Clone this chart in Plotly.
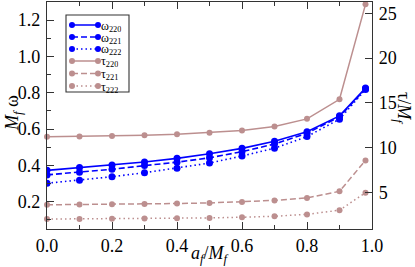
import plotly.graph_objects as go

# ---------------- data ----------------
a_f = [0.0, 0.1, 0.2, 0.3, 0.4, 0.5, 0.6, 0.7, 0.8, 0.9, 0.98]
w220 = [0.373, 0.388, 0.403, 0.419, 0.439, 0.464, 0.494, 0.533, 0.586, 0.673, 0.826]
w221 = [0.348, 0.362, 0.379, 0.399, 0.418, 0.442, 0.476, 0.518, 0.577, 0.668, 0.822]
w222 = [0.302, 0.318, 0.338, 0.360, 0.385, 0.413, 0.452, 0.495, 0.559, 0.655, 0.818]
tau220 = [11.24, 11.27, 11.33, 11.40, 11.51, 11.68, 11.93, 12.38, 13.23, 15.41, 26.0]
tau221 = [3.65, 3.67, 3.70, 3.74, 3.79, 3.86, 3.97, 4.14, 4.42, 5.15, 8.6]
tau222 = [2.06, 2.07, 2.09, 2.11, 2.15, 2.19, 2.26, 2.37, 2.58, 3.05, 5.0]

legend_labels = ["ω<sub>220</sub>", "ω<sub>221</sub>", "ω<sub>222</sub>",
                 "τ<sub>220</sub>", "τ<sub>221</sub>", "τ<sub>222</sub>"]

BLUE = "#0000ff"
ROSE = "#bc8f8f"
FONT = "Liberation Serif"
DASH = "6px,3px"
DOT = "1.5px,3px"

W, H = 415, 267
ML, MR, MT, MB = 47, 43, 2, 38
PW, PH = W - ML - MR, H - MT - MB

fig = go.Figure()

omega_series = [(w220, "solid"), (w221, DASH), (w222, DOT)]
tau_series = [(tau220, "solid"), (tau221, DASH), (tau222, DOT)]

for vals, dash in tau_series:
    fig.add_trace(go.Scatter(x=a_f, y=vals, yaxis="y2", mode="lines+markers",
                             line=dict(color=ROSE, width=1.5, dash=dash),
                             marker=dict(color=ROSE, size=6), showlegend=False,
                             cliponaxis=False))
for vals, dash in omega_series:
    fig.add_trace(go.Scatter(x=a_f, y=vals, yaxis="y", mode="lines+markers",
                             line=dict(color=BLUE, width=1.6, dash=dash),
                             marker=dict(color=BLUE, size=7), showlegend=False))

axis_common = dict(showline=True, linecolor="#333", linewidth=1.3, showgrid=False,
                   zeroline=False, ticks="inside", ticklen=7, tickwidth=1.1,
                   tickcolor="#333", tickfont=dict(family=FONT, size=18, color="black"))

fig.update_layout(
    width=W, height=H,
    margin=dict(l=ML, r=MR, t=MT, b=MB),
    paper_bgcolor="white", plot_bgcolor="white",
    font=dict(family=FONT, size=18, color="black"),
    showlegend=False,
    xaxis=dict(range=[0, 1.0], tickvals=[0, 0.2, 0.4, 0.6, 0.8, 1.0],
               ticktext=["0.0", "0.2", "0.4", "0.6", "0.8", "1.0"], mirror="ticks",
               minor=dict(dtick=0.1, tick0=0, ticks="inside", ticklen=4,
                          tickcolor="#333", tickwidth=1.1),
               **axis_common),
    yaxis=dict(range=[0.05, 1.3], tick0=0.2, dtick=0.2, tickformat=".1f",
               minor=dict(dtick=0.1, tick0=0.1, ticks="inside", ticklen=4,
                          tickcolor="#333", tickwidth=1.1),
               ticklabelstandoff=2, **axis_common),
    yaxis2=dict(range=[0.95, 26.26], tickvals=[5, 10, 15, 20, 25], overlaying="y",
                side="right", ticklabelstandoff=2, **axis_common),
)

def px_x(px):
    return (px - ML) / PW

def px_y(py):
    return (H - MB - py) / PH

annotations = [
    dict(text="<i>a<sub>f</sub></i>/<i>M<sub>f</sub></i>", x=px_x(210), y=px_y(254),
         xref="paper", yref="paper", showarrow=False, font=dict(family=FONT, size=18),
         xanchor="center", yanchor="middle"),
    dict(text="<i>M<sub>f</sub></i> ω", x=px_x(13), y=px_y(113), xref="paper", yref="paper",
         showarrow=False, textangle=-90, font=dict(family=FONT, size=18),
         xanchor="center", yanchor="middle"),
    dict(text="τ/<i>M<sub>f</sub></i>", x=px_x(402), y=px_y(108), xref="paper", yref="paper",
         showarrow=False, textangle=90, font=dict(family=FONT, size=18),
         xanchor="center", yanchor="middle"),
]

shapes = []
# legend box
shapes.append(dict(type="rect", xref="paper", yref="paper",
                   x0=px_x(66), x1=px_x(129), y0=px_y(92), y1=px_y(15),
                   line=dict(color="#333", width=1.1), fillcolor="white", layer="above"))
row_y = [25, 37, 49, 61, 73.5, 86]
styles = [(BLUE, "solid"), (BLUE, DASH), (BLUE, DOT),
          (ROSE, "solid"), (ROSE, DASH), (ROSE, DOT)]
for (col, dash), ry, lab in zip(styles, row_y, legend_labels):
    shapes.append(dict(type="line", xref="paper", yref="paper",
                       x0=px_x(72), x1=px_x(98), y0=px_y(ry), y1=px_y(ry),
                       line=dict(color=col, width=1.5, dash=dash), layer="above"))
    for cx in (72, 98):
        shapes.append(dict(type="circle", xref="paper", yref="paper",
                           xsizemode="pixel", ysizemode="pixel",
                           xanchor=px_x(cx), yanchor=px_y(ry),
                           x0=-3, x1=3, y0=-3, y1=3,
                           fillcolor=col, line=dict(color=col, width=0), layer="above"))
    annotations.append(dict(text=lab, x=px_x(100), y=px_y(ry + 1), xref="paper", yref="paper",
                            showarrow=False, xanchor="left", yanchor="middle",
                            height=11, valign="middle", borderpad=0,
                            font=dict(family=FONT, size=12, color="black")))

fig.update_layout(shapes=shapes, annotations=annotations)

fig.write_html("out.html", config={"displayModeBar": False},
               post_script="document.body.style.margin='0';document.body.style.overflow='hidden';")
